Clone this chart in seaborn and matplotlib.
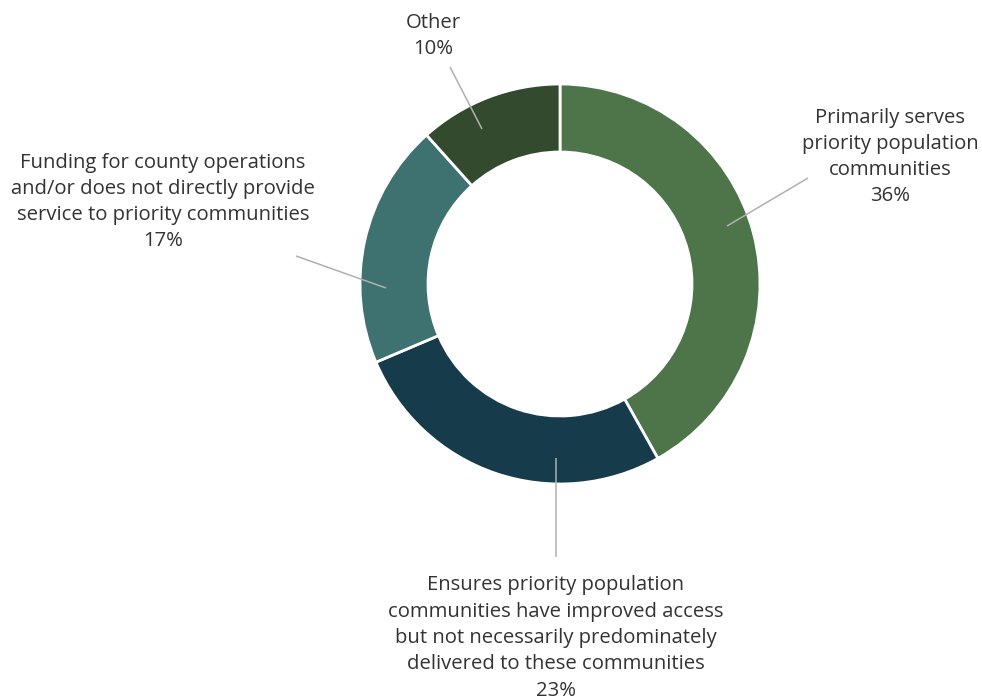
import matplotlib
matplotlib.use("Agg")
import matplotlib.pyplot as plt
import seaborn as sns

# Share of funding by how directly it reaches priority communities
categories = [
    "Primarily serves\npriority population\ncommunities",
    "Ensures priority population\ncommunities have improved access\nbut not necessarily predominately\ndelivered to these communities",
    "Funding for county operations\nand/or does not directly provide\nservice to priority communities",
    "Other",
]
shares = [36, 23, 17, 10]
colors = ["#4d7549", "#163c4c", "#3d7270", "#334a2f"]

sns.set_theme(style="white")
plt.rcParams["font.family"] = ["Open Sans", "DejaVu Sans"]

W, H = 982, 699
fig = plt.figure(figsize=(W / 100, H / 100), dpi=100)
ax = fig.add_axes([0, 0, 1, 1])

cx, cy = 560, H - 284
ax.pie(
    shares,
    colors=colors,
    radius=200,
    center=(cx, cy),
    startangle=90,
    counterclock=False,
    wedgeprops=dict(width=68, edgecolor="white", linewidth=2),
)
ax.set_xlim(0, W)
ax.set_ylim(0, H)
ax.set_aspect("equal")
ax.axis("off")

# label text anchors (center of text block) and leader line endpoints, in pixels from top-left
label_layout = [
    dict(text=(890, 157), line=((808, 178), (727, 226))),
    dict(text=(556, 638), line=((556, 557), (556, 458))),
    dict(text=(163, 202), line=((296, 256), (386, 288))),
    dict(text=(433, 36), line=((450, 67), (482, 129))),
]

for name, val, lay in zip(categories, shares, label_layout):
    (x1, y1), (x2, y2) = lay["line"]
    ax.plot([x1, x2], [H - y1, H - y2], color="#b0b0b0", lw=1.1, solid_capstyle="butt")
    tx, ty = lay["text"]
    ax.text(tx, H - ty, f"{name}\n{val}%", ha="center", va="center",
            fontsize=14.6, color="#333333", linespacing=1.42)

fig.savefig("out.png", dpi=100, facecolor="white")
